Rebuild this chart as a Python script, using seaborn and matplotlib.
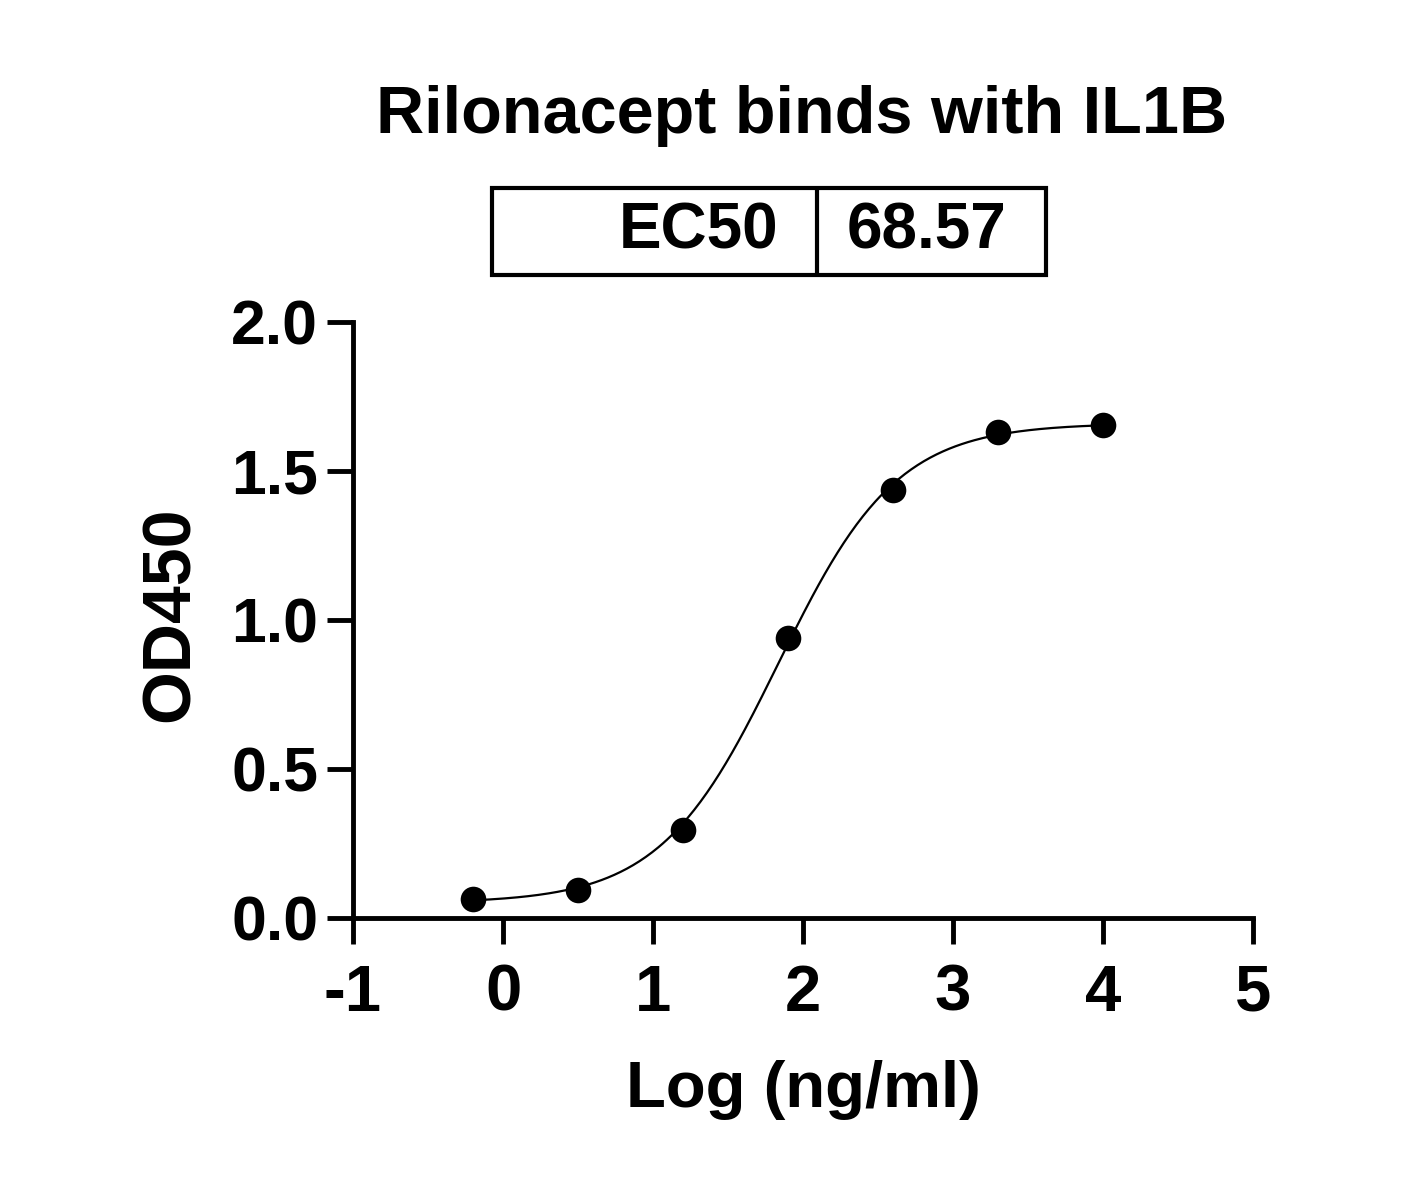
import numpy as np
import pandas as pd
import matplotlib.pyplot as plt
from matplotlib.patches import Rectangle
from matplotlib.lines import Line2D
import seaborn as sns

# -------------------------------
# Data
# -------------------------------
log_conc = [-0.2, 0.5, 1.2, 1.9, 2.6, 3.3, 4.0]
od450 = [0.064, 0.094, 0.295, 0.94, 1.436, 1.63, 1.654]

# 4PL fit parameters of the drawn curve
ec50 = 68.57
fit_bottom = 0.05
fit_top = 1.66
fit_hill = 1.1

title = "Rilonacept binds with IL1B"
x_ticks = [-1, 0, 1, 2, 3, 4, 5]
y_ticks = [0.0, 0.5, 1.0, 1.5, 2.0]

points_df = pd.DataFrame({"log_conc": log_conc, "od450": od450})
curve_x = np.linspace(min(log_conc), max(log_conc), 300)
curve_y = fit_bottom + (fit_top - fit_bottom) / (1 + 10 ** ((np.log10(ec50) - curve_x) * fit_hill))
curve_df = pd.DataFrame({"log_conc": curve_x, "od450": curve_y})

# -------------------------------
# Style
# -------------------------------
sns.set_theme(style="ticks")
plt.rcParams["font.family"] = ["Liberation Sans", "DejaVu Sans"]
plt.rcParams["font.weight"] = "bold"
plt.rcParams["text.color"] = "black"
plt.rcParams["axes.labelcolor"] = "black"
plt.rcParams["xtick.color"] = "black"
plt.rcParams["ytick.color"] = "black"

fig = plt.figure(figsize=(14.27, 11.97), dpi=100)
ax = fig.add_axes([0.2474, 0.2331, 0.6307, 0.4979])

sns.lineplot(data=curve_df, x="log_conc", y="od450", ax=ax, color="black",
             linewidth=1.6, estimator=None, sort=True)
sns.scatterplot(data=points_df, x="log_conc", y="od450", ax=ax, color="black",
                s=340, edgecolor="black", linewidth=0, zorder=5, clip_on=False)

ax.set_xlim(-1, 5)
ax.set_ylim(0, 2)
ax.set_xticks(x_ticks)
ax.set_xticklabels([str(t) for t in x_ticks])
ax.set_yticks(y_ticks)
ax.set_yticklabels([f"{t:.1f}" for t in y_ticks])

sns.despine(ax=ax)
for side in ["left", "bottom"]:
    ax.spines[side].set_linewidth(3.5)
    ax.spines[side].set_color("black")
ax.tick_params(axis="both", width=3.5, length=19, color="black",
               labelcolor="black", direction="out")
ax.tick_params(axis="x", pad=14, labelsize=47)
ax.tick_params(axis="y", pad=6, labelsize=45)
for lbl in ax.get_xticklabels() + ax.get_yticklabels():
    lbl.set_fontweight("bold")

ax.set_xlabel("Log (ng/ml)", fontsize=47, fontweight="bold", labelpad=26)
ax.set_ylabel("OD450", fontsize=49, fontweight="bold")
ax.yaxis.set_label_coords(-0.167, 0.51)

# Title and EC50 box
fig.text(0.5617, 0.903, title, ha="center", va="center", fontsize=48, fontweight="bold")

box = Rectangle((0.3448, 0.7703), 0.3882, 0.0727, transform=fig.transFigure,
                fill=False, edgecolor="black", linewidth=3)
fig.add_artist(box)
fig.add_artist(Line2D([0.5725, 0.5725], [0.7703, 0.843], transform=fig.transFigure,
                      color="black", linewidth=3))
fig.text(0.5452, 0.807, "EC50", ha="right", va="center", fontsize=46, fontweight="bold")
fig.text(0.6493, 0.807, f"{ec50:.2f}", ha="center", va="center", fontsize=46, fontweight="bold")

fig.savefig("out.png", dpi=100, facecolor="white")
